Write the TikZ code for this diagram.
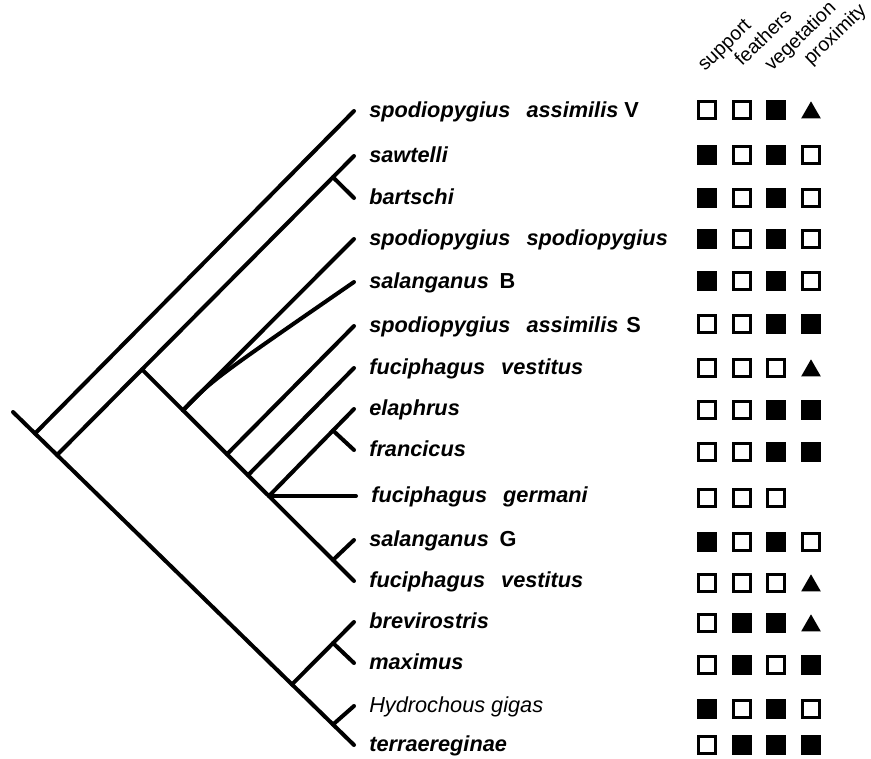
\documentclass[tikz,border=0pt]{standalone}
\usepackage{fontspec}
\setmainfont{Liberation Sans}
\usetikzlibrary{shapes.geometric}
\newcommand\wgap{\hspace{12pt}}
\tikzset{
  br/.style={line width=3pt, line cap=round, line join=round},
  lbl/.style={anchor=base west, inner sep=0pt, font=\fontsize{16.3}{18}\selectfont\bfseries\itshape},
  hdr/.style={anchor=base west, inner sep=0pt, rotate=44, font=\fontsize{14.6}{16}\selectfont},
  symo/.style={draw, line width=2pt, minimum size=12.3pt, inner sep=0pt},
  symf/.style={draw, fill, line width=2pt, minimum size=12.3pt, inner sep=0pt},
  symt/.style={fill, regular polygon, regular polygon sides=3, minimum size=17pt, inner sep=0pt, yshift=-2pt},
  symn/.style={inner sep=0pt, minimum size=12pt}
}
\begin{document}
\begin{tikzpicture}[x=0.75pt,y=-0.75pt]
\useasboundingbox (0,0) rectangle (871,758);

% tips and labels
\foreach \i/\y/\txt in {
  1/111/{spodiopygius\wgap assimilis {\upshape V}},
  2/156/{sawtelli},
  3/198/{bartschi},
  4/239/{spodiopygius\wgap spodiopygius},
  5/282/{salanganus\hspace{8pt}{\upshape B}},
  6/326/{spodiopygius\wgap assimilis\hspace{6pt}{\upshape S}},
  7/368/{fuciphagus\wgap vestitus},
  8/409/{elaphrus},
  9/450/{francicus},
  11/540/{salanganus\hspace{8pt}{\upshape G}},
  12/581/{fuciphagus\wgap vestitus},
  13/622/{brevirostris},
  14/663/{maximus},
  16/745/{terraereginae}} {
  \coordinate (t\i) at (354,\y);
  \node[lbl] (L\i) at (369,\y+6) {\txt};
}
\coordinate (t10) at (356,496);
\node[lbl] (L10) at (371,502) {fuciphagus\wgap germani};
\coordinate (t15) at (354,706);
\node[lbl, font=\fontsize{16.3}{18}\selectfont\itshape] (L15) at (369,712) {Hydrochous gigas};

% branch points
\coordinate (R) at (13,412);
\coordinate (n1) at (35,433.5);
\coordinate (n2) at (57,455);
\coordinate (nL) at (292,684.4);
\coordinate (nHT) at (333,724.5);
\coordinate (nBM) at (333,643);
\coordinate (nSB) at (333,177.2);
\coordinate (nI) at (142,369.4);
\coordinate (nA) at (183,410.3);
\coordinate (nS) at (227,454.2);
\coordinate (nF) at (248,475.2);
\coordinate (nE) at (269,496);
\coordinate (nSG) at (333,560);
\coordinate (nEF) at (333,430.5);

% tree
\draw[br] (R) -- (t16);
\draw[br] (n1) -- (t1);
\draw[br] (n2) -- (t2);
\draw[br] (nSB) -- (t3);
\draw[br] (nI) -- (t12);
\draw[br] (nA) -- (t4);
\draw[br] (nA) .. controls (212,380) .. (t5);
\draw[br] (nS) -- (t6);
\draw[br] (nF) -- (t7);
\draw[br] (nE) -- (t8);
\draw[br] (nEF) -- (t9);
\draw[br] (nE) -- (t10);
\draw[br] (nSG) -- (t11);
\draw[br] (nL) -- (t13);
\draw[br] (nBM) -- (t14);
\draw[br] (nHT) -- (t15);

% headers
\node[hdr] (h1) at (705,72) {support};
\node[hdr] (h2) at (742,67) {feathers};
\node[hdr] (h3) at (772,72) {vegetation};
\node[hdr] (h4) at (811,66) {proximity};

% symbols
\foreach \i/\y/\a/\b/\c/\d in {
  1/110/o/o/f/t, 2/155/f/o/f/o, 3/198/f/o/f/o, 4/239/f/o/f/o,
  5/281/f/o/f/o, 6/324/o/o/f/f, 7/368/o/o/o/t, 8/410/o/o/f/f,
  9/452/o/o/f/f, 10/498/o/o/o/n, 11/542/f/o/f/o, 12/583/o/o/o/t,
  13/623/o/f/f/t, 14/665/o/f/o/f, 15/709/f/o/f/o, 16/745/o/f/f/f} {
  \node[sym\a] (S\i a) at (707,\y) {};
  \node[sym\b] (S\i b) at (742,\y) {};
  \node[sym\c] (S\i c) at (776,\y) {};
  \node[sym\d] (S\i d) at (811,\y) {};
}
\end{tikzpicture}
\end{document}
